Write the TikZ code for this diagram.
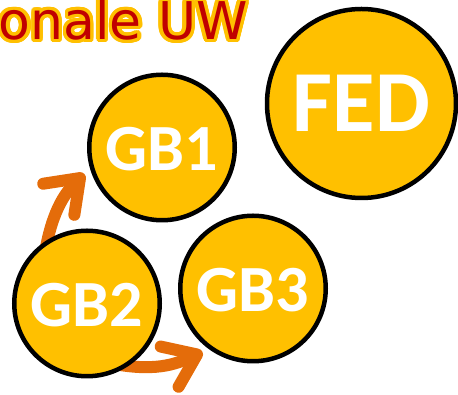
\documentclass[tikz,border=0pt]{standalone}
\usepackage{fontspec}
\setmainfont{Carlito}
\newfontfamily\titlefont{DejaVu Sans}
\usepackage{contour}
\usetikzlibrary{arrows.meta,backgrounds}

\definecolor{goldfill}{HTML}{FFC000}
\definecolor{flowmark}{HTML}{E46C0A}
\definecolor{titlered}{HTML}{C00000}
\contourlength{3.4pt}
\contournumber{32}

\tikzset{
  ball/.style={circle, draw=black, line width=4.5pt, fill=goldfill, text=white,
    inner sep=0pt, minimum size=145.5pt, text depth=0pt, text height=47pt,
    font=\bfseries\fontsize{66}{66}\selectfont},
  bigball/.style={ball, minimum size=189pt, text height=57pt,
    font=\bfseries\fontsize{87}{87}\selectfont},
  flow/.style={flowmark, line width=12pt, line cap=round,
    -{Straight Barb[round, length=30pt, width=44pt]}}
}

\begin{document}
\begin{tikzpicture}[x=1pt, y=1pt]
    % Khung hình
    \useasboundingbox (0,0) rectangle (458,395);
    \clip (0,0) rectangle (458,395);

    % 1. Tiêu đề (bị cắt)
    \node[anchor=base west, inner sep=0pt, text=titlered,
          font=\titlefont\fontsize{52}{52}\selectfont] (title) at (-1.5,355.5)
        {\contour{goldfill}{onale UW}};

    % 2. Các vòng tròn
    \node[ball] (gb1) at (162,247.5) {GB1};
    \node[ball] (gb2) at (87,91.5) {GB2};
    \node[ball] (gb3) at (253,106.5) {GB3};
    \node[bigball] (fed) at (361.5,291.5) {FED};

    % 3. Mũi tên (nằm dưới các vòng tròn)
    \begin{scope}[on background layer]
        \draw[flow, shorten <=-12pt, shorten >=8pt]
            (gb2.122) to[out=80, in=225] (gb1.196);
        \draw[flow, shorten <=-12pt, shorten >=7pt]
            (gb2.-57) to[out=-10, in=204] (gb3.234);
    \end{scope}
\end{tikzpicture}
\end{document}
